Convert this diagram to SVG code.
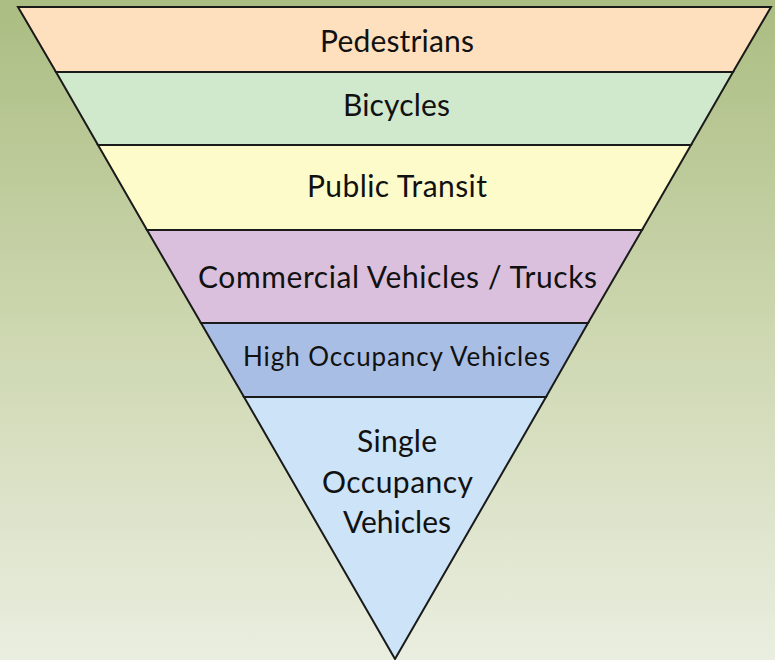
<svg xmlns="http://www.w3.org/2000/svg" width="775" height="660" viewBox="0 0 775 660">
<defs>
<linearGradient id="bg" x1="0" y1="0" x2="0" y2="1">
<stop offset="0" stop-color="#abbd82"/>
<stop offset="0.5" stop-color="#cdd7b0"/>
<stop offset="1" stop-color="#eaeee0"/>
</linearGradient>
<style>
.band{stroke:#1a1a1a;stroke-width:2;stroke-linejoin:miter}
.t{font-family:Lato,"Open Sans","Liberation Sans",sans-serif;fill:#111;text-anchor:middle;font-size:30px}
.s{font-size:26px}
</style>
</defs>
<rect x="0" y="0" width="775" height="660" fill="url(#bg)"/>
<g id="pedestrians"><polygon class="band" fill="#fee0bf" points="18,7 771,7 733,72 56,72"/><text class="t" x="397" y="52" textLength="154">Pedestrians</text></g>
<g id="bicycles"><polygon class="band" fill="#d0e8cc" points="56,72 733,72 691,145 98,145"/><text class="t" x="396.5" y="116" textLength="107">Bicycles</text></g>
<g id="public-transit"><polygon class="band" fill="#fefbcb" points="98,145 691,145 642,230 147,230"/><text class="t" x="397" y="197" textLength="180">Public Transit</text></g>
<g id="commercial"><polygon class="band" fill="#dac0dc" points="147,230 642,230 588,323 201,323"/><text class="t" x="397.5" y="288" textLength="399">Commercial Vehicles / Trucks</text></g>
<g id="hov"><polygon class="band" fill="#a9bee4" points="201,323 588,323 546,397 244,397"/><text class="t s" x="396.5" y="366" textLength="307">High Occupancy Vehicles</text></g>
<g id="sov"><polygon class="band" fill="#cde3f7" points="244,397 546,397 395,659"/><text class="t" x="397" y="452" textLength="80">Single</text><text class="t" x="397.5" y="493" textLength="151">Occupancy</text><text class="t" x="397" y="533" textLength="108">Vehicles</text></g>
</svg>
